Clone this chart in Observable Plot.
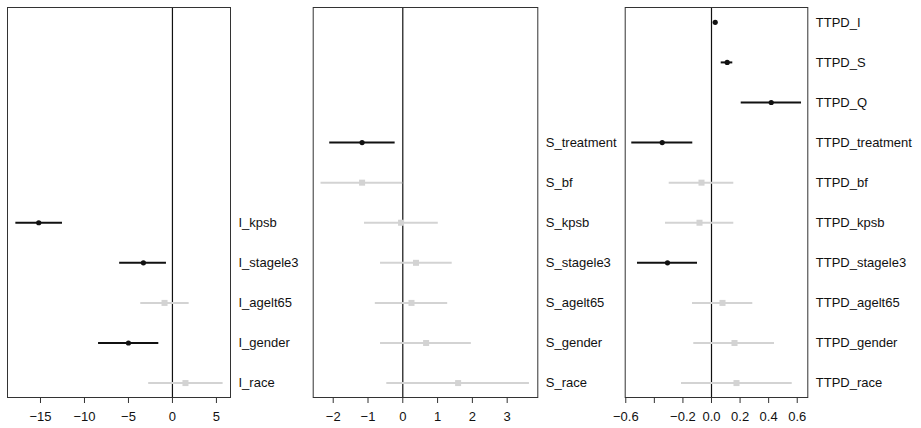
<!DOCTYPE html>
<html>
<head>
<meta charset="utf-8">
<script src="https://cdn.jsdelivr.net/npm/d3@7"></script>
<script src="https://cdn.jsdelivr.net/npm/@observablehq/plot@0.6"></script>
<style>
  html, body { margin: 0; padding: 0; background: #fff; }
  #wrap { position: relative; width: 921px; height: 428px; overflow: hidden; }
  #wrap > div { position: absolute; top: 0; }
  #wrap svg { overflow: visible; }
</style>
</head>
<body>
<div id="wrap"><div id="p1"></div><div id="p2"></div><div id="p3"></div></div>
<script>
// ---- Panel 1: I ----
const iLabels = ["I_kpsb", "I_stagele3", "I_agelt65", "I_gender", "I_race"];
const iRows   = [6, 7, 8, 9, 10];
const iEst    = [-15.2, -3.3, -0.9, -5.0, 1.48];
const iLo     = [-17.8, -6.0, -3.6, -8.4, -2.7];
const iHi     = [-12.5, -0.68, 1.9, -1.55, 5.76];
const iSig    = [true, true, false, true, false];
const iTicks  = [-15, -10, -5, 0, 5];

// ---- Panel 2: S ----
const sLabels = ["S_treatment", "S_bf", "S_kpsb", "S_stagele3", "S_agelt65", "S_gender", "S_race"];
const sRows   = [4, 5, 6, 7, 8, 9, 10];
const sEst    = [-1.17, -1.17, -0.05, 0.38, 0.25, 0.67, 1.59];
const sLo     = [-2.10, -2.35, -1.10, -0.64, -0.79, -0.64, -0.46];
const sHi     = [-0.22, 0.0, 1.02, 1.42, 1.29, 1.97, 3.64];
const sSig    = [true, false, false, false, false, false, false];
const sTicks  = [-2, -1, 0, 1, 2, 3];

// ---- Panel 3: TTPD ----
const tLabels = ["TTPD_I", "TTPD_S", "TTPD_Q", "TTPD_treatment", "TTPD_bf", "TTPD_kpsb", "TTPD_stagele3", "TTPD_agelt65", "TTPD_gender", "TTPD_race"];
const tRows   = [1, 2, 3, 4, 5, 6, 7, 8, 9, 10];
const tEst    = [0.026, 0.11, 0.418, -0.345, -0.07, -0.084, -0.308, 0.077, 0.161, 0.175];
const tLo     = [0.016, 0.068, 0.208, -0.558, -0.296, -0.322, -0.518, -0.133, -0.124, -0.21];
const tHi     = [0.036, 0.149, 0.63, -0.131, 0.156, 0.156, -0.098, 0.289, 0.441, 0.565];
const tSig    = [true, true, true, true, false, false, true, false, false, false];
const tTicks  = [-0.6, -0.4, -0.2, 0.0, 0.2, 0.4, 0.6];
const tTickLabels = ["-0.6", "", "-0.2", "0.0", "0.2", "0.4", "0.6"];

const BLACK = "#111";
const GRAY = "#d3d3d3";
const FONT = "'Liberation Sans', Arial, Helvetica, sans-serif";

function table(labels, rows, est, lo, hi, sig) {
  return labels.map((l, i) => ({label: l, row: rows[i], est: est[i], lo: lo[i], hi: hi[i], sig: sig[i]}));
}

function panel(el, left, width, mL, mR, xDomain, data, ticks, tickFmt) {
  const sig = data.filter(d => d.sig);
  const ns = data.filter(d => !d.sig);
  const svg = Plot.plot({
    width, height: 428,
    marginTop: 7, marginBottom: 31, marginLeft: mL, marginRight: mR,
    style: {fontFamily: FONT, fontSize: "13px", color: "#111", background: "transparent", overflow: "visible"},
    x: {domain: xDomain},
    y: {domain: [0.63, 10.36], reverse: true, axis: null},
    marks: [
      Plot.ruleX([0], {stroke: BLACK, strokeWidth: 1.2}),
      Plot.ruleY(ns, {y: "row", x1: "lo", x2: "hi", stroke: GRAY, strokeWidth: 2}),
      Plot.dot(ns, {y: "row", x: "est", symbol: "square", r: 3.4, fill: GRAY, stroke: "none"}),
      Plot.ruleY(sig, {y: "row", x1: "lo", x2: "hi", stroke: BLACK, strokeWidth: 2}),
      Plot.dot(sig, {y: "row", x: "est", r: 2.6, fill: BLACK, stroke: "none"}),
      Plot.frame({stroke: "#333", strokeWidth: 1}),
      Plot.axisX({ticks, tickSize: 6, tickPadding: 8, tickFormat: tickFmt, label: null, fontSize: 13, stroke: "#333"}),
      Plot.text(data, {y: "row", text: "label", frameAnchor: "right", textAnchor: "start", dx: 8, fontSize: 13, fill: "#111"})
    ]
  });
  const host = document.getElementById(el);
  host.style.left = left + "px";
  host.appendChild(svg);
}

const minus = s => String(s).replace("-", "\u2212");

panel("p1", 0, 305, 7, 75, [-18.75, 6.6], table(iLabels, iRows, iEst, iLo, iHi, iSig), iTicks, d => minus(d));
panel("p2", 305, 310, 7.7, 77.7, [-2.575, 3.88], table(sLabels, sRows, sEst, sLo, sHi, sSig), sTicks, d => minus(d));
panel("p3", 615, 306, 9.7, 113.7, [-0.604, 0.674], table(tLabels, tRows, tEst, tLo, tHi, tSig), tTicks,
  d => minus(tTickLabels[tTicks.findIndex(t => Math.abs(t - d) < 1e-9)] ?? ""));
</script>
</body>
</html>
